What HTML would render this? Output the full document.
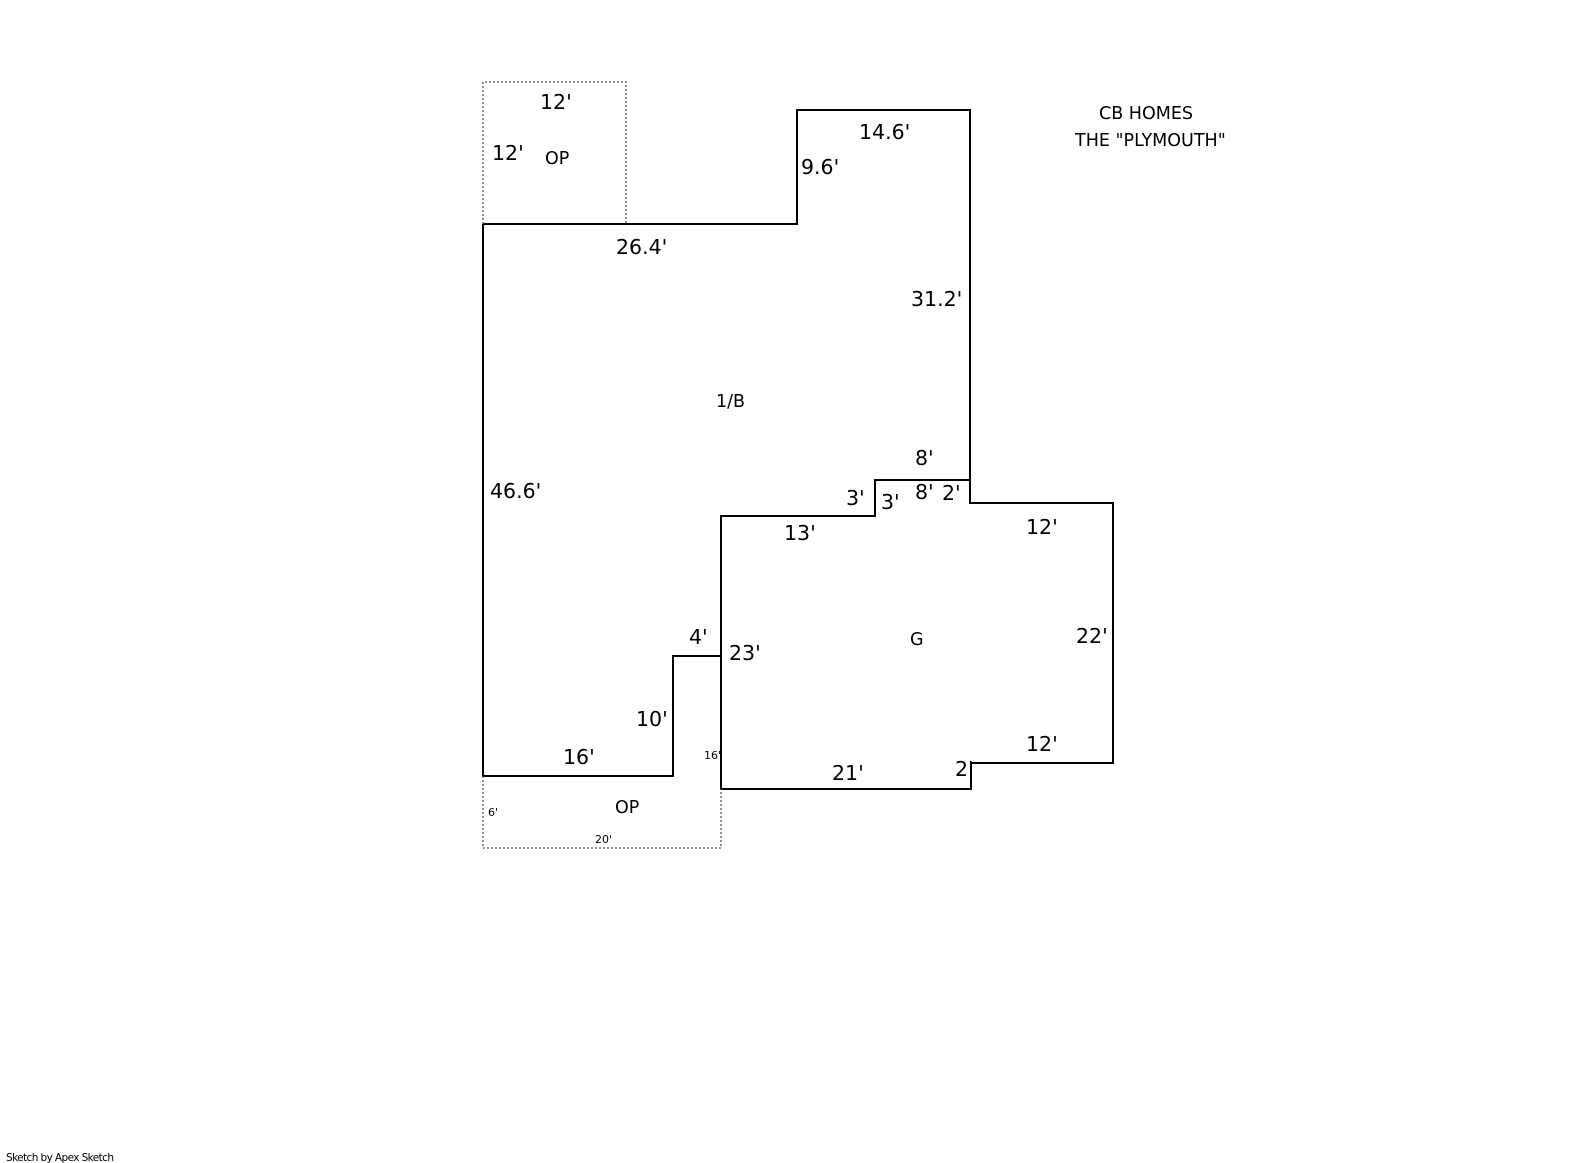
<!DOCTYPE html>
<html><head><style>html,body{margin:0;padding:0;background:#fff}svg{display:block}</style></head><body>
<svg width="1585" height="1163" viewBox="0 0 1585 1163" xmlns="http://www.w3.org/2000/svg" font-family="'DejaVu Sans','Liberation Sans',sans-serif" fill="#000">
<rect width="1585" height="1163" fill="#fff"/>
<g fill="none" stroke="#000" stroke-width="2">
<polyline points="483,224 797,224 797,110 970,110 970,480 875,480 875,516 721,516 721,656 673,656 673,776 483,776 483,224"/>
<polyline points="970,480 970,503 1113,503 1113,763 971,763 971,789 721,789 721,656"/>
</g>
<g fill="none" stroke="#555" stroke-width="1.3" stroke-dasharray="2,2">
<polyline points="483,224 483,82 626,82 626,224"/>
<polyline points="483,776 483,848 721,848 721,789"/>
</g>
<g font-size="20.5" dominant-baseline="middle">
<text x="540" y="103">12'</text>
<text x="492" y="154">12'</text>
<text x="859" y="133">14.6'</text>
<text x="801" y="168">9.6'</text>
<text x="616" y="248">26.4'</text>
<text x="911" y="300">31.2'</text>
<text x="915" y="459">8'</text>
<text x="490" y="492">46.6'</text>
<text x="846" y="499">3'</text>
<text x="881" y="503">3'</text>
<text x="915" y="493">8'</text>
<text x="942" y="494">2'</text>
<text x="784" y="534">13'</text>
<text x="1026" y="528">12'</text>
<text x="1076" y="637">22'</text>
<text x="689" y="638">4'</text>
<text x="729" y="654">23'</text>
<text x="636" y="720">10'</text>
<text x="1026" y="745">12'</text>
<text x="563" y="758">16'</text>
<text x="832" y="774">21'</text>
<text x="955" y="770">2'</text>
</g>
<g font-size="17.5" dominant-baseline="middle">
<text x="545" y="159">OP</text>
<text x="716" y="402">1/B</text>
<text x="910" y="640">G</text>
<text x="615" y="808">OP</text>
<text x="1099" y="114">CB HOMES</text>
<text x="1075" y="141">THE "PLYMOUTH"</text>
</g>
<g font-size="11" dominant-baseline="middle">
<text x="704" y="756">16'</text>
<text x="488" y="813">6'</text>
<text x="595" y="840">20'</text>
</g>
<text x="6" y="1161" font-size="10.5" letter-spacing="-0.6">Sketch by Apex Sketch</text>
</svg>
</body></html>
